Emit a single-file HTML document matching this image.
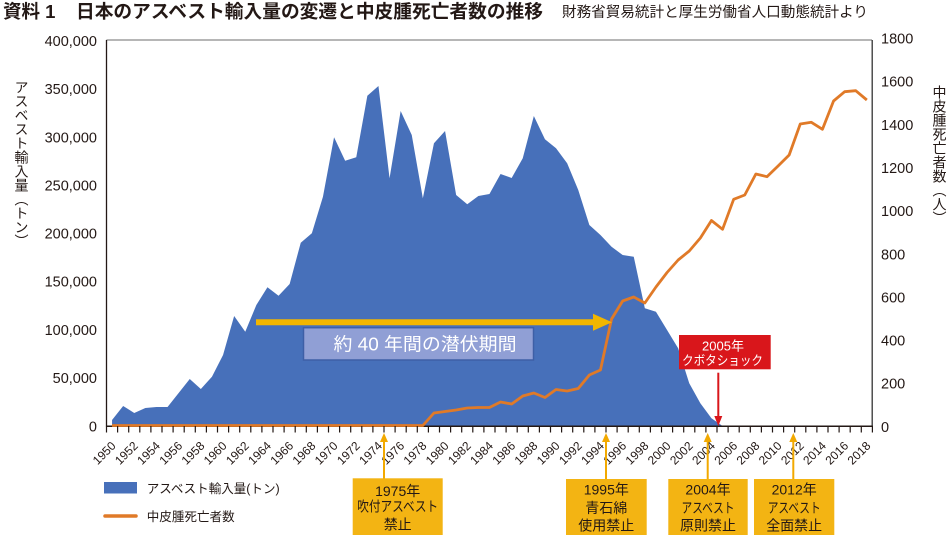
<!DOCTYPE html>
<html><head><meta charset="utf-8">
<style>
html,body{margin:0;padding:0;background:#fff;}
body{width:950px;height:535px;overflow:hidden;position:relative;font-family:"Liberation Sans","Noto Sans CJK JP",sans-serif;color:#231815;}
.vt{position:absolute;writing-mode:vertical-rl;font-size:14px;line-height:14px;width:14px;font-family:"Liberation Sans","Noto Sans CJK JP",sans-serif;color:#231815;}
svg{position:absolute;left:0;top:0;}
</style></head>
<body>
<svg width="950" height="535" viewBox="0 0 950 535" xmlns="http://www.w3.org/2000/svg" font-family="Liberation Sans, Noto Sans CJK JP, sans-serif">
<!-- Title -->
<text x="3" y="18" font-size="18.5" font-weight="bold" fill="#231815">資料 1</text>
<text x="76" y="18" font-size="18.5" font-weight="bold" fill="#231815" textLength="467" lengthAdjust="spacingAndGlyphs">日本のアスベスト輸入量の変遷と中皮腫死亡者数の推移</text>
<text x="562" y="17" font-size="14.5" fill="#231815" textLength="306" lengthAdjust="spacingAndGlyphs">財務省貿易統計と厚生労働省人口動態統計より</text>

<!-- Blue area -->
<polygon fill="#4770BA" points="112.05,426 112.05,420 123.15,406 134.25,413 145.35,408 156.45,407 167.55,407 178.65,393 189.75,379 200.85,389 211.95,376.7 223.05,355 234.15,316 245.25,331.7 256.35,305 267.45,287.3 278.55,295.7 289.65,284 300.75,242.7 311.85,233.3 322.95,196.7 334.05,137.3 345.15,160.7 356.25,157.3 367.35,95.7 378.45,86 389.55,178.3 400.65,111 411.75,135 422.85,198.3 433.95,143.3 445.05,131 456.15,195 467.25,204.3 478.35,196 489.45,194 500.55,174 511.65,178 522.75,158.3 533.85,116 544.95,139.3 556.05,148.3 567.15,163.3 578.25,190 589.35,225 600.45,235 611.55,246.7 622.65,255 633.75,256.7 644.85,308.3 655.95,311.7 667.05,330 678.15,348.3 689.25,383.3 700.35,403.3 711.45,418.3 722.55,426"/>

<!-- Frame -->
<line x1="106.5" y1="40" x2="872" y2="40" stroke="#8a8a8a" stroke-width="1.2"/>
<line x1="106.5" y1="40" x2="106.5" y2="426.5" stroke="#231815" stroke-width="1.3"/>
<line x1="872.2" y1="40" x2="872.2" y2="426.5" stroke="#333" stroke-width="1.3"/>
<line x1="106" y1="426.3" x2="872.8" y2="426.3" stroke="#231815" stroke-width="1.5"/>

<!-- Orange line -->
<polyline fill="none" stroke="#E07A28" stroke-width="2.8" stroke-linejoin="round" points="112.05,425.5 422.85,425.5 433.95,413 445.05,411.5 456.15,410 467.25,408 478.35,407.5 489.45,407.5 500.55,402 511.65,404 522.75,396 533.85,393 544.95,397.5 556.05,389.5 567.15,391 578.25,388.5 589.35,375 600.45,370 611.55,319 622.65,301 633.75,297 644.85,303 655.95,287 667.05,272.5 678.15,260 689.25,251 700.35,238 711.45,220.5 722.55,229.3 733.65,199.3 744.75,195 755.85,174 766.95,176.7 778.05,166 789.15,155 800.25,124 811.35,122.3 822.45,129.3 833.55,101 844.65,91.7 855.75,90.7 866.85,100"/>

<!-- Ticks -->
<g stroke="#231815" stroke-width="1.2">
<path d="M106.5 426V432.5M117.6 426V432.5M128.7 426V432.5M139.8 426V432.5M150.9 426V432.5M162 426V432.5M173.1 426V432.5M184.2 426V432.5M195.3 426V432.5M206.4 426V432.5M217.5 426V432.5M228.6 426V432.5M239.7 426V432.5M250.8 426V432.5M261.9 426V432.5M273 426V432.5M284.1 426V432.5M295.2 426V432.5M306.3 426V432.5M317.4 426V432.5M328.5 426V432.5M339.6 426V432.5M350.7 426V432.5M361.8 426V432.5M372.9 426V432.5M384 426V432.5M395.1 426V432.5M406.2 426V432.5M417.3 426V432.5M428.4 426V432.5M439.5 426V432.5M450.6 426V432.5M461.7 426V432.5M472.8 426V432.5M483.9 426V432.5M495 426V432.5M506.1 426V432.5M517.2 426V432.5M528.3 426V432.5M539.4 426V432.5M550.5 426V432.5M561.6 426V432.5M572.7 426V432.5M583.8 426V432.5M594.9 426V432.5M606 426V432.5M617.1 426V432.5M628.2 426V432.5M639.3 426V432.5M650.4 426V432.5M661.5 426V432.5M672.6 426V432.5M683.7 426V432.5M694.8 426V432.5M705.9 426V432.5M717 426V432.5M728.1 426V432.5M739.2 426V432.5M750.3 426V432.5M761.4 426V432.5M772.5 426V432.5M783.6 426V432.5M794.7 426V432.5M805.8 426V432.5M816.9 426V432.5M828 426V432.5M839.1 426V432.5M850.2 426V432.5M861.3 426V432.5M872.4 426V432.5"/>
</g>

<!-- Year labels -->
<g font-size="12" fill="#231815" text-anchor="end">
<text transform="translate(116.5,446.5) rotate(-45)">1950</text>
<text transform="translate(138.7,446.5) rotate(-45)">1952</text>
<text transform="translate(160.9,446.5) rotate(-45)">1954</text>
<text transform="translate(183.1,446.5) rotate(-45)">1956</text>
<text transform="translate(205.3,446.5) rotate(-45)">1958</text>
<text transform="translate(227.5,446.5) rotate(-45)">1960</text>
<text transform="translate(249.7,446.5) rotate(-45)">1962</text>
<text transform="translate(271.9,446.5) rotate(-45)">1964</text>
<text transform="translate(294.1,446.5) rotate(-45)">1966</text>
<text transform="translate(316.3,446.5) rotate(-45)">1968</text>
<text transform="translate(338.5,446.5) rotate(-45)">1970</text>
<text transform="translate(360.7,446.5) rotate(-45)">1972</text>
<text transform="translate(382.9,446.5) rotate(-45)">1974</text>
<text transform="translate(405.1,446.5) rotate(-45)">1976</text>
<text transform="translate(427.3,446.5) rotate(-45)">1978</text>
<text transform="translate(449.5,446.5) rotate(-45)">1980</text>
<text transform="translate(471.7,446.5) rotate(-45)">1982</text>
<text transform="translate(493.9,446.5) rotate(-45)">1984</text>
<text transform="translate(516.1,446.5) rotate(-45)">1986</text>
<text transform="translate(538.3,446.5) rotate(-45)">1988</text>
<text transform="translate(560.5,446.5) rotate(-45)">1990</text>
<text transform="translate(582.7,446.5) rotate(-45)">1992</text>
<text transform="translate(604.9,446.5) rotate(-45)">1994</text>
<text transform="translate(627.1,446.5) rotate(-45)">1996</text>
<text transform="translate(649.3,446.5) rotate(-45)">1998</text>
<text transform="translate(671.5,446.5) rotate(-45)">2000</text>
<text transform="translate(693.7,446.5) rotate(-45)">2002</text>
<text transform="translate(715.9,446.5) rotate(-45)">2004</text>
<text transform="translate(738.1,446.5) rotate(-45)">2006</text>
<text transform="translate(760.3,446.5) rotate(-45)">2008</text>
<text transform="translate(782.5,446.5) rotate(-45)">2010</text>
<text transform="translate(804.7,446.5) rotate(-45)">2012</text>
<text transform="translate(826.9,446.5) rotate(-45)">2014</text>
<text transform="translate(849.1,446.5) rotate(-45)">2016</text>
<text transform="translate(871.3,446.5) rotate(-45)">2018</text>
</g>

<!-- Left axis labels -->
<g font-size="14.5" fill="#231815" text-anchor="end">
<text x="97" y="46">400,000</text>
<text x="97" y="94.1">350,000</text>
<text x="97" y="142.3">300,000</text>
<text x="97" y="190.4">250,000</text>
<text x="97" y="238.6">200,000</text>
<text x="97" y="286.7">150,000</text>
<text x="97" y="334.9">100,000</text>
<text x="97" y="383">50,000</text>
<text x="97" y="431.5">0</text>
</g>

<!-- Right axis labels -->
<g font-size="14.5" fill="#231815">
<text x="881" y="43.5">1800</text>
<text x="881" y="86.6">1600</text>
<text x="881" y="129.8">1400</text>
<text x="881" y="172.9">1200</text>
<text x="881" y="216.1">1000</text>
<text x="881" y="259.3">800</text>
<text x="881" y="302.4">600</text>
<text x="881" y="345.6">400</text>
<text x="881" y="388.7">200</text>
<text x="881" y="431.9">0</text>
</g>

<!-- Latency arrow -->
<line x1="256" y1="322.3" x2="595" y2="322.3" stroke="#F2B600" stroke-width="6"/>
<polygon points="593,313.8 612,322.3 593,330.8" fill="#F2B600"/>
<rect x="303.5" y="327.7" width="230" height="32.3" fill="#909FD5" stroke="#3E5FA6" stroke-width="1.5"/>
<text x="425" y="350.5" font-size="18" fill="#fff" text-anchor="middle" textLength="183" lengthAdjust="spacingAndGlyphs">約 40 年間の潜伏期間</text>

<!-- Red box -->
<rect x="679" y="335" width="91.7" height="34.3" fill="#D9161B"/>
<text x="723" y="350.3" font-size="13" fill="#fff" text-anchor="middle">2005年</text>
<text x="722.5" y="364.8" font-size="13" fill="#fff" text-anchor="middle" textLength="81" lengthAdjust="spacingAndGlyphs">クボタショック</text>
<line x1="718.3" y1="372.7" x2="718.3" y2="418" stroke="#D9161B" stroke-width="2"/>
<polygon points="714.3,416 722.3,416 718.3,426" fill="#D9161B"/>

<!-- Yellow annotation arrows -->
<g stroke="#F2A900" stroke-width="2">
<line x1="384" y1="440" x2="384" y2="479"/>
<line x1="606" y1="440" x2="606" y2="479"/>
<line x1="707.7" y1="440" x2="707.7" y2="479"/>
<line x1="793.3" y1="440" x2="793.3" y2="479"/>
</g>
<g fill="#F2A900">
<polygon points="380,442 388,442 384,433"/>
<polygon points="602,442 610,442 606,433"/>
<polygon points="703.7,442 711.7,442 707.7,433"/>
<polygon points="789.3,442 797.3,442 793.3,433"/>
</g>

<!-- Annotation boxes -->
<g fill="#F3B413">
<rect x="352.7" y="478.3" width="90" height="57"/>
<rect x="566" y="479" width="80.7" height="56"/>
<rect x="668.3" y="479" width="79.4" height="56"/>
<rect x="754" y="479" width="80.3" height="56"/>
</g>
<g font-size="14" fill="#231815" text-anchor="middle">
<text x="397.7" y="496">1975年</text>
<text x="397.7" y="511.5" textLength="81" lengthAdjust="spacingAndGlyphs">吹付アスベスト</text>
<text x="397.7" y="529.5">禁止</text>
<text x="606.3" y="494.5">1995年</text>
<text x="606.3" y="513">青石綿</text>
<text x="606.3" y="530.5">使用禁止</text>
<text x="708" y="494.5">2004年</text>
<text x="708" y="513" textLength="53" lengthAdjust="spacingAndGlyphs">アスベスト</text>
<text x="708" y="530.5">原則禁止</text>
<text x="794.2" y="494.5">2012年</text>
<text x="794.2" y="513" textLength="53" lengthAdjust="spacingAndGlyphs">アスベスト</text>
<text x="794.2" y="530.5">全面禁止</text>
</g>

<!-- Legend -->
<rect x="104" y="482" width="33" height="11.5" fill="#4770BA"/>
<text x="146.7" y="493" font-size="12.6" fill="#231815" textLength="133" lengthAdjust="spacingAndGlyphs">アスベスト輸入量(トン)</text>
<line x1="105" y1="516" x2="136" y2="516" stroke="#E07A28" stroke-width="3.5" stroke-linecap="round"/>
<text x="146.7" y="521" font-size="12.6" fill="#231815" textLength="88" lengthAdjust="spacingAndGlyphs">中皮腫死亡者数</text>
</svg>

<div class="vt" style="left:14.5px;top:80px;">アスベスト輸入量（トン）</div>
<div class="vt" style="left:932.5px;top:85px;">中皮腫死亡者数（人）</div>
</body></html>
